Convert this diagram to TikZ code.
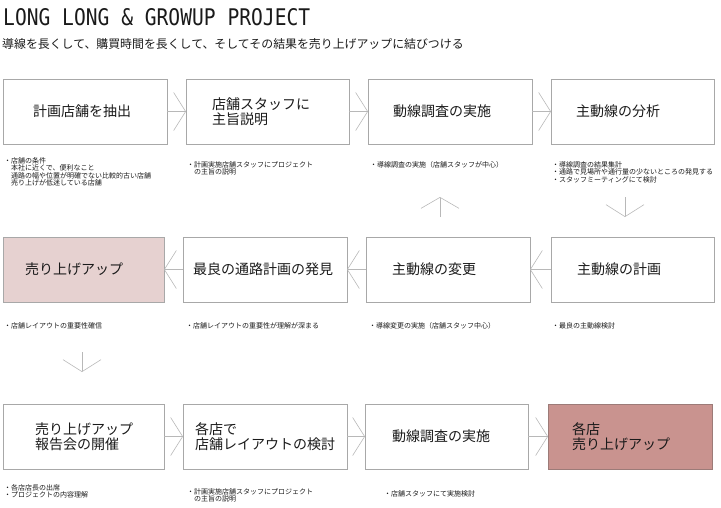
\documentclass[tikz,border=0pt]{standalone}
\usepackage{graphicx}
\usepackage{fontspec}
\setmainfont{Noto Sans CJK JP}
\newfontfamily\titlemono{DejaVu Sans Mono}
\usetikzlibrary{arrows.meta}
\definecolor{boxline}{HTML}{A8A8A8}
\definecolor{arrowgray}{HTML}{B8B8B8}
\definecolor{palepink}{HTML}{E6D1D0}
\definecolor{deeppink}{HTML}{C9938F}
\definecolor{deepline}{HTML}{9C7B78}
\definecolor{txt}{HTML}{1A1A1A}
\begin{document}
\begin{tikzpicture}[x=1pt,y=-1pt,
  box/.style={draw=boxline, line width=0.9pt, minimum width=164pt, minimum height=65pt,
    anchor=north west, inner sep=0pt, outer sep=0pt},
  lbl/.style={anchor=west, inner sep=0pt, align=left, text=txt,
    font=\fontsize{14}{15}\selectfont},
  note/.style={anchor=north west, inner sep=0pt, align=left, text=txt,
    font=\fontsize{7}{7.3}\selectfont},
  conn/.style={draw=arrowgray, line width=0.6pt, -{Straight Barb[length=12pt,width=38pt]}},
]
\useasboundingbox (0,0) rectangle (721,507);

% title
\node[anchor=base west, inner sep=0pt, text=txt] (title) at (3,25)
  {\resizebox{307pt}{17pt}{\titlemono LONG LONG \& GROWUP PROJECT}};
\node[anchor=base west, inner sep=0pt, text=txt, font=\fontsize{11.9}{12}\selectfont] (sub) at (2,48.5)
  {導線を長くして、購買時間を長くして、そしてその結果を売り上げアップに結びつける};

% row 1
\node[box] (a1) at (3,79) {};
\node[box, minimum width=163pt] (a2) at (186,79) {};
\node[box] (a3) at (368,79) {};
\node[box, minimum width=163pt] (a4) at (551,79) {};
\node[lbl] (ta1) at ([xshift=30pt]a1.west) {計画店舗を抽出};
\node[lbl] (ta2) at ([xshift=26pt]a2.west) {店舗スタッフに\\主旨説明};
\node[lbl] (ta3) at ([xshift=25pt]a3.west) {動線調査の実施};
\node[lbl] (ta4) at ([xshift=25pt]a4.west) {主動線の分析};

% row 2
\node[box, minimum width=161pt, fill=palepink] (b1) at (3,237) {};
\node[box] (b2) at (183,237) {};
\node[box] (b3) at (366,237) {};
\node[box, minimum width=163pt] (b4) at (551,237) {};
\node[lbl] (tb1) at ([xshift=22pt]b1.west) {売り上げアップ};
\node[lbl] (tb2) at ([xshift=10pt]b2.west) {最良の通路計画の発見};
\node[lbl] (tb3) at ([xshift=26pt]b3.west) {主動線の変更};
\node[lbl] (tb4) at ([xshift=26pt]b4.west) {主動線の計画};

% row 3
\node[box, minimum width=161pt] (c1) at (3,404) {};
\node[box] (c2) at (183,404) {};
\node[box, minimum width=163pt] (c3) at (365,404) {};
\node[box, draw=deepline, fill=deeppink] (c4) at (548,404) {};
\node[lbl] (tc1) at ([xshift=32pt]c1.west) {売り上げアップ\\報告会の開催};
\node[lbl] (tc2) at ([xshift=12pt]c2.west) {各店で\\店舗レイアウトの検討};
\node[lbl] (tc3) at ([xshift=27pt]c3.west) {動線調査の実施};
\node[lbl] (tc4) at ([xshift=24pt]c4.west) {各店\\売り上げアップ};

% notes row 1
\node[note] (na1) at (4,157.5) {・店舗の条件\\　本社に近くで、便利なこと\\　通路の幅や位置が明確でない比較的古い店舗\\　売り上げが低迷している店舗};
\node[note] (na2) at (187,161.5) {・計画実施店舗スタッフにプロジェクト\\　の主旨の説明};
\node[note] (na3) at (370,161.5) {・導線調査の実施（店舗スタッフが中心）};
\node[note] (na4) at (552,161.5) {・導線調査の結果集計\\・通路で見場所や通行量の少ないところの発見する\\・スタッフミーティングにて検討};

% notes row 2
\node[note] (nb1) at (4,322.5) {・店舗レイアウトの重要性確信};
\node[note] (nb2) at (186,322.5) {・店舗レイアウトの重要性が理解が深まる};
\node[note] (nb3) at (369,322.5) {・導線変更の実施（店舗スタッフ中心）};
\node[note] (nb4) at (552,322.5) {・最良の主動線検討};

% notes row 3
\node[note] (nc1) at (4,484.5) {・各店店長の出席\\・プロジェクトの内容理解};
\node[note] (nc2) at (187,488.5) {・計画実施店舗スタッフにプロジェクト\\　の主旨の説明};
\node[note] (nc3) at (384,490.5) {・店舗スタッフにて実施検討};

% connectors
\draw[conn] (a1.east) -- (a2.west);
\draw[conn] (a2.east) -- (a3.west);
\draw[conn] (a3.east) -- (a4.west);
\draw[conn] (b4.west) -- (b3.east);
\draw[conn] (b3.west) -- (b2.east);
\draw[conn] (b2.west) -- (b1.east);
\draw[conn] (c1.east) -- (c2.west);
\draw[conn] (c2.east) -- (c3.west);
\draw[conn] (c3.east) -- (c4.west);

% free-standing vertical arrows
\coordinate (up0) at (440,217);
\coordinate (up1) at (440,197);
\coordinate (dn0) at (625,197);
\coordinate (dn1) at (625,217);
\coordinate (dl0) at (82,352);
\coordinate (dl1) at (82,372);
\draw[conn, -{Straight Barb[length=11pt,width=38pt]}] (up0) -- (up1);
\draw[conn] (dn0) -- (dn1);
\draw[conn] (dl0) -- (dl1);
\end{tikzpicture}
\end{document}
